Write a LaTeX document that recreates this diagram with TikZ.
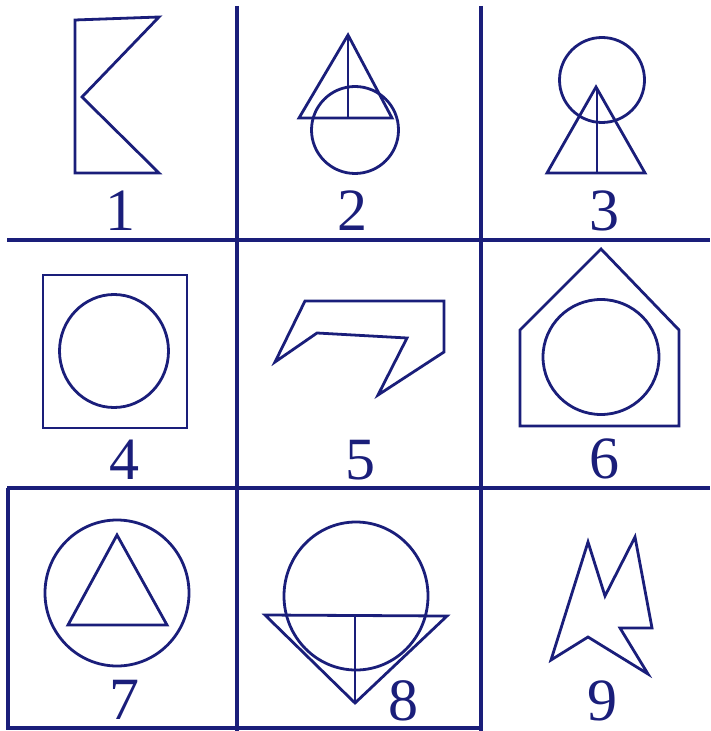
\documentclass[tikz,border=0pt]{standalone}
\usepackage{fontspec}
\setmainfont{Liberation Serif}
\definecolor{ink}{RGB}{26,30,122}
\tikzset{
    grid line/.style={ink, line width=1.7pt},
    figure line/.style={ink, line width=1.4pt, line join=miter},
    fig label/.style={ink, inner sep=0pt, font=\fontsize{30}{30}\selectfont}
}
\begin{document}
\begin{tikzpicture}[x=0.5pt, y=-0.5pt]
    \useasboundingbox (0,0) rectangle (710,731);

    % Grid lines
    \draw[grid line] (237,6) -- (237,731);
    \draw[grid line] (481,6) -- (481,731);
    \draw[grid line] (7,240) -- (710,240);
    \draw[grid line] (7,488) -- (710,488);
    \draw[grid line] (8,488) -- (8,728) -- (481,728);

    % Figure 1 - rectangle with notch
    \draw[figure line] (75,20) -- (159,17) -- (82,97) -- (159,173) -- (75,173) -- cycle;
    \node[fig label] (lbl1) at (120,211) {1};

    % Figure 2 - triangle over circle
    \draw[figure line] (355,130) circle (43.5);
    \draw[figure line] (348,35) -- (299,118) -- (392,118) -- cycle;
    \draw[figure line] (348,35) -- (348,118);
    \node[fig label] (lbl2) at (352,211) {2};

    % Figure 3 - circle over triangle
    \draw[figure line] (602,80) circle (42.5);
    \draw[figure line] (596,87) -- (547,173) -- (645,173) -- cycle;
    \draw[figure line] (597,87) -- (597,173);
    \node[fig label] (lbl3) at (604,211) {3};

    % Figure 4 - circle in square
    \draw[figure line] (43,275) rectangle (187,428);
    \draw[figure line] (114,351) ellipse (54.5 and 56.5);
    \node[fig label] (lbl4) at (124,460) {4};

    % Figure 5 - hook shape
    \draw[figure line] (305,301) -- (444,301) -- (444,352) -- (378,395)
        -- (407,338) -- (317,333) -- (275,362) -- cycle;
    \node[fig label] (lbl5) at (360,460) {5};

    % Figure 6 - circle in pentagon
    \draw[figure line] (601,249) -- (679,330) -- (679,426) -- (520,426) -- (520,330) -- cycle;
    \draw[figure line] (601,357) ellipse (58 and 57.5);
    \node[fig label] (lbl6) at (604,459) {6};

    % Figure 7 - triangle in circle
    \draw[figure line] (117,593) ellipse (72 and 73);
    \draw[figure line] (117,535) -- (167,625) -- (68,625) -- cycle;
    \node[fig label] (lbl7) at (124,700) {7};

    % Figure 8 - circle over inverted triangle
    \draw[figure line] (356,596) ellipse (72 and 74);
    \draw[figure line] (265,615) -- (447,616) -- (355,703) -- cycle;
    \draw[figure line] (355,616) -- (355,703);
    \node[fig label] (lbl8) at (403,701) {8};

    % Figure 9 - jagged shape
    \draw[figure line] (588,542) -- (605,596) -- (635,537) -- (652,628) -- (620,628)
        -- (648,674) -- (588,637) -- (551,660) -- cycle;
    \node[fig label] (lbl9) at (602,701) {9};
\end{tikzpicture}
\end{document}
